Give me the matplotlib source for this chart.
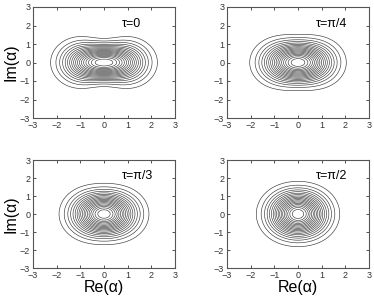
import numpy as np
import matplotlib.pyplot as plt

plt.rcParams['font.family'] = ['Liberation Sans', 'DejaVu Sans']

# panel parameters
tau_labels = ["τ=0", "τ=π/4", "τ=π/3", "τ=π/2"]
half_sep = [0.8, 0.6, 0.5, 0.4]      # lobe half-separation along Re(α)
width_re = [1.0, 1.02, 1.0, 0.97]    # stretch along Re(α)
width_im = [1.04, 1.08, 1.15, 1.17]  # stretch along Im(α)
levels = np.linspace(0.06, 0.95, 18)
ticks = [-3, -2, -1, 0, 1, 2, 3]

x = np.linspace(-3, 3, 500)
X, Y = np.meshgrid(x, x)

fig = plt.figure(figsize=(3.74, 3.0), dpi=100)
boxes = [
    [33 / 374, 1 - 118 / 300, 142 / 374, 111 / 300],
    [227 / 374, 1 - 118 / 300, 142 / 374, 111 / 300],
    [33 / 374, 1 - 268 / 300, 142 / 374, 108 / 300],
    [227 / 374, 1 - 268 / 300, 142 / 374, 108 / 300],
]

for i in range(4):
    ax = fig.add_axes(boxes[i])
    d = half_sep[i]
    u = X / width_re[i]
    v = Y / width_im[i]
    Q = np.exp(-u**2 - v**2) * (np.cosh(2 * d * u) + np.cos(2 * d * v))
    Q = Q / Q.max()
    ax.contour(X, Y, Q, levels=levels, colors='#3a3a3a', linewidths=0.45)
    ax.set_xlim(-3, 3)
    ax.set_ylim(-3, 3)
    ax.set_xticks(ticks)
    ax.set_yticks(ticks)
    ax.tick_params(direction='in', length=2.5, width=0.6, labelsize=6.5,
                   top=True, right=True, pad=2, colors='#333333')
    for s in ax.spines.values():
        s.set_linewidth(0.8)
        s.set_color('#555555')
    ax.text(0.75, 2.1, tau_labels[i], fontsize=9, va='center', ha='left')
    if i % 2 == 0:
        ax.set_ylabel("Im(α)", fontsize=11.5, labelpad=1)
    if i >= 2:
        ax.set_xlabel("Re(α)", fontsize=11.5, labelpad=0)

fig.savefig("out.png", dpi=100)
